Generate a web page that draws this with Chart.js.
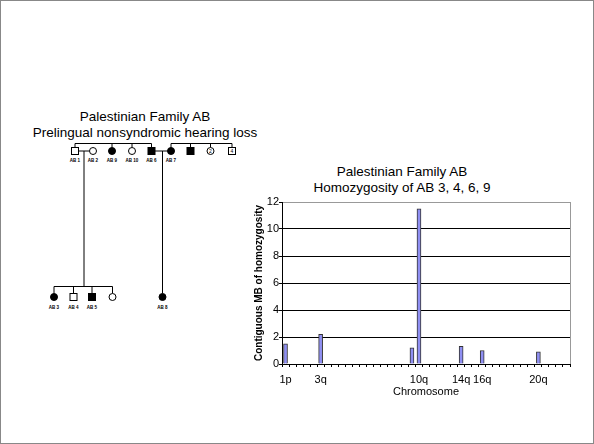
<!DOCTYPE html>
<html>
<head>
<meta charset="utf-8">
<script src="https://cdn.jsdelivr.net/npm/chart.js@4"></script>
<style>
  html, body { margin: 0; padding: 0; background: #fff; }
  #slide {
    position: relative; width: 594px; height: 444px; overflow: hidden;
    font-family: "Liberation Sans", Arial, sans-serif; color: #000;
  }
  #frame { position: absolute; left: 0; top: 0; width: 592px; height: 442px; border: 1px solid #888; }
  .title { position: absolute; font-size: 13.5px; line-height: 16px; text-align: center; white-space: nowrap; }
  #pedTitle { left: -55px; width: 400px; top: 109px; }
  #chartTitle { left: 202px; width: 400px; top: 164px; }
  #pedigree { position: absolute; left: 0; top: 0; }
  #pedigree text { font-family: "Liberation Sans", Arial, sans-serif; font-weight: bold; font-size: 4.5px; text-anchor: middle; }
  #chart { position: absolute; left: 250px; top: 192px; }
</style>
</head>
<body>
<div id="slide">
  <div id="frame"></div>
  <div class="title" id="pedTitle">Palestinian Family AB<br>Prelingual nonsyndromic hearing loss</div>
  <div class="title" id="chartTitle">Palestinian Family AB<br>Homozygosity of AB 3, 4, 6, 9</div>

  <svg id="pedigree" width="594" height="444" stroke="#000" stroke-width="1" fill="none">
    <!-- 1世代目 -->
    <line x1="75" y1="143.5" x2="151.5" y2="143.5"/>
    <line x1="75" y1="143.5" x2="75" y2="147.5"/>
    <line x1="112" y1="143.5" x2="112" y2="147.5"/>
    <line x1="132" y1="143.5" x2="132" y2="147.5"/>
    <line x1="151.5" y1="143.5" x2="151.5" y2="147.5"/>
    <line x1="171" y1="143.5" x2="232" y2="143.5"/>
    <line x1="171" y1="143.5" x2="171" y2="147.5"/>
    <line x1="190.5" y1="143.5" x2="190.5" y2="147.5"/>
    <line x1="210.5" y1="143.5" x2="210.5" y2="147.5"/>
    <line x1="232" y1="143.5" x2="232" y2="147.5"/>
    <line x1="78.5" y1="151" x2="89.5" y2="151"/>
    <line x1="155" y1="151" x2="167.5" y2="151"/>
    <line x1="84" y1="151" x2="84" y2="286.5"/>
    <line x1="162.5" y1="151" x2="162.5" y2="293.5"/>
    <rect x="71.5" y="147.5" width="7" height="7" fill="#fff"/>
    <circle cx="93" cy="151" r="3.5" fill="#fff"/>
    <circle cx="112" cy="151" r="3.5" fill="#000"/>
    <circle cx="132" cy="151" r="3.5" fill="#fff"/>
    <rect x="148" y="147.5" width="7" height="7" fill="#000"/>
    <circle cx="171" cy="151" r="3.5" fill="#000"/>
    <rect x="187" y="147.5" width="7" height="7" fill="#000"/>
    <circle cx="210.5" cy="151" r="3.5" fill="#fff"/>
    <rect x="228.5" y="147.5" width="7" height="7" fill="#fff"/>
    <!-- 2世代目 -->
    <line x1="54" y1="286.5" x2="112.5" y2="286.5"/>
    <line x1="54" y1="286.5" x2="54" y2="293.5"/>
    <line x1="73.5" y1="286.5" x2="73.5" y2="293.5"/>
    <line x1="92" y1="286.5" x2="92" y2="293.5"/>
    <line x1="112.5" y1="286.5" x2="112.5" y2="293.5"/>
    <circle cx="54" cy="297" r="3.5" fill="#000"/>
    <rect x="70" y="293.5" width="7" height="7" fill="#fff"/>
    <rect x="88.5" y="293.5" width="7" height="7" fill="#000"/>
    <circle cx="112.5" cy="297" r="3.5" fill="#fff"/>
    <circle cx="162.5" cy="297" r="3.5" fill="#000"/>
    <g stroke="none" fill="#000">
      <text x="210.5" y="152.8" style="font-weight:normal;font-size:5px">2</text>
      <text x="232" y="152.8" style="font-weight:normal;font-size:5px">4</text>
      <text x="75" y="162">AB 1</text>
      <text x="93" y="162">AB 2</text>
      <text x="112" y="162">AB 9</text>
      <text x="132" y="162">AB 10</text>
      <text x="151.5" y="162">AB 6</text>
      <text x="171" y="162">AB 7</text>
      <text x="54" y="309">AB 3</text>
      <text x="73.5" y="309">AB 4</text>
      <text x="92" y="309">AB 5</text>
      <text x="162.5" y="309">AB 8</text>
    </g>
  </svg>

  <canvas id="chart" width="330" height="210"></canvas>
</div>

<script>
// 染色体腕（13〜15, 21, 22 は q のみ）
const chromosomeArms = [
    '1p', '1q', '2p', '2q', '3p', '3q', '4p', '4q', '5p', '5q', '6p', '6q',
    '7p', '7q', '8p', '8q', '9p', '9q', '10p', '10q', '11p', '11q', '12p', '12q',
    '13q', '14q', '15q', '16p', '16q', '17p', '17q', '18p', '18q', '19p', '19q',
    '20p', '20q', '21q', '22q', 'Xp', 'Xq'
];

// 連続ホモ接合領域 (MB)
const homozygosityMb = [
    1.5, null, null, null, null, 2.2, null, null, null, null, null, null,
    null, null, null, null, null, null, 1.2, 11.5, null, null, null, null,
    null, 1.3, null, null, 1.0, null, null, null, null, null, null,
    null, 0.9, null, null, null, null
];

// X軸に表示するラベル
const labeledArms = ['1p', '3q', '10q', '14q', '16q', '20q'];

// Y軸の目盛り
const yMin = 0;
const yMax = 12;
const yStep = 2;

const font = '"Liberation Sans", Arial, sans-serif';

// プロット枠の右端を灰色で描く
const rightBorder = {
    id: 'rightBorder',
    afterDraw(chart) {
        const { ctx, chartArea } = chart;
        ctx.save();
        ctx.strokeStyle = '#999';
        ctx.lineWidth = 1;
        ctx.beginPath();
        ctx.moveTo(chartArea.right + 0.5, chartArea.top);
        ctx.lineTo(chartArea.right + 0.5, chartArea.bottom);
        ctx.stroke();
        ctx.restore();
    }
};

new Chart(document.getElementById('chart').getContext('2d'), {
    type: 'bar',
    data: {
        labels: chromosomeArms,
        datasets: [{
            label: 'Contiguous MB of homozygosity',
            data: homozygosityMb,
            backgroundColor: '#8f8ff2',
            borderColor: '#333',
            borderWidth: 1,
            barThickness: 4
        }]
    },
    options: {
        responsive: false,
        animation: false,
        devicePixelRatio: 1,
        layout: { padding: { top: 10, right: 10, left: 0, bottom: 0 } },
        plugins: {
            legend: { display: false },
            tooltip: { enabled: false }
        },
        scales: {
            x: {
                offset: true,
                grid: {
                    display: true,
                    offset: true,
                    drawOnChartArea: false,
                    drawTicks: true,
                    tickLength: 3,
                    color: '#000'
                },
                border: { color: '#000', width: 1 },
                ticks: {
                    autoSkip: false,
                    maxRotation: 0,
                    padding: 6,
                    color: '#000',
                    font: { family: font, size: 11 },
                    callback: (v, i) => labeledArms.includes(chromosomeArms[i]) ? chromosomeArms[i] : ''
                },
                title: {
                    display: true,
                    text: 'Chromosome',
                    color: '#000',
                    font: { family: font, size: 11 },
                    padding: { top: 0, bottom: 3 }
                },
                afterFit: (scale) => { scale.height = 38; }
            },
            y: {
                min: yMin,
                max: yMax,
                grid: {
                    color: (ctx) => ctx.tick && ctx.tick.value === yMax ? '#999' : '#000',
                    tickColor: '#000',
                    tickLength: 3
                },
                border: { color: '#000', width: 1 },
                ticks: {
                    stepSize: yStep,
                    padding: 0,
                    color: '#000',
                    font: { family: font, size: 11 }
                },
                title: {
                    display: true,
                    text: 'Contiguous MB of homozygosity',
                    color: '#000',
                    font: { family: font, size: 10, weight: 'bold' },
                    padding: { top: 3, bottom: 0 }
                },
                afterFit: (scale) => { scale.width = 32; }
            }
        }
    },
    plugins: [rightBorder]
});
</script>
</body>
</html>
